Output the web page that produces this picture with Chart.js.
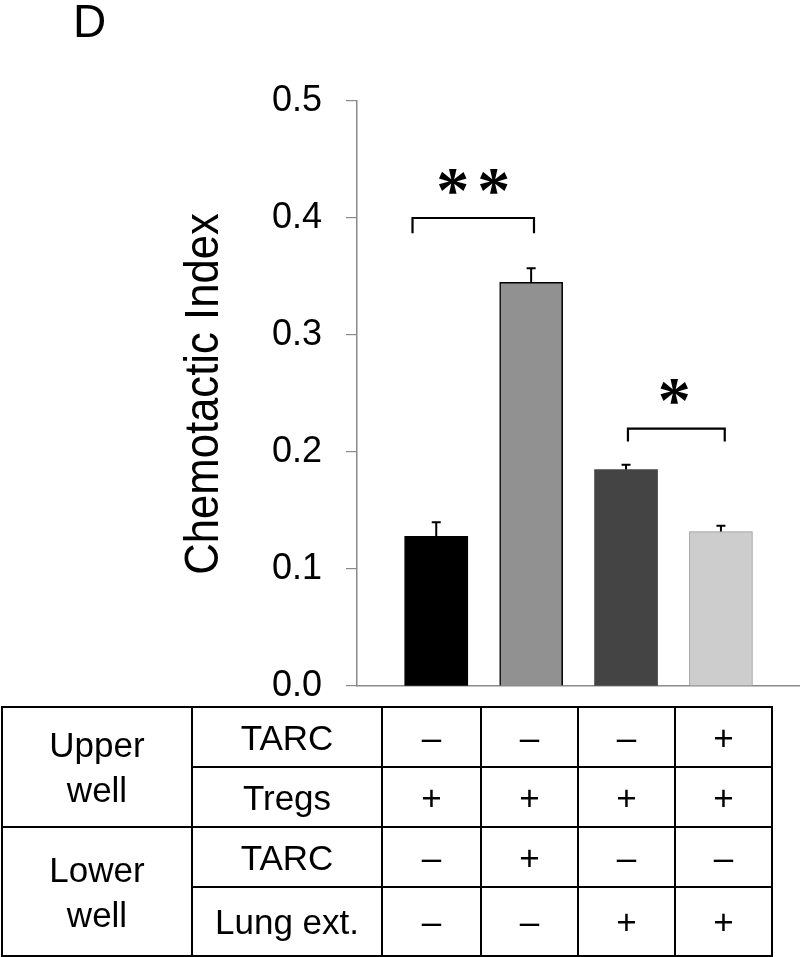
<!DOCTYPE html>
<html>
<head>
<meta charset="utf-8">
<script src="https://cdn.jsdelivr.net/npm/chart.js@4.4.1/dist/chart.umd.min.js"></script>
<style>
  html, body { margin: 0; padding: 0; background: #fff; }
  #wrap { width: 800px; height: 957px; position: relative; }
</style>
</head>
<body>
<div id="wrap"><canvas id="chart" width="800" height="957"></canvas></div>
<script>
// ----- data -----
const groups = ["1", "2", "3", "4"];
const chemotacticIndex = [0.128, 0.345, 0.185, 0.132];
const errors = [0.012, 0.012, 0.004, 0.005];
const barColors = ["#000000", "#919191", "#444444", "#cdcdcd"];
const yTicks = [0.0, 0.1, 0.2, 0.3, 0.4, 0.5];

// significance brackets (x in bar positions, y in index units)
const sigFrom = [0.75, 3.02];
const sigTo = [2.03, 4.04];
const sigY = [0.4, 0.22];
const sigLeg = [0.013, 0.011];
const sigLabel = ["**", "*"];

// condition table
const groupLabels = [["Upper", "well"], ["Lower", "well"]];
const rowLabels = ["TARC", "Tregs", "TARC", "Lung ext."];
const upperTARC = ["–", "–", "–", "+"];
const upperTregs = ["+", "+", "+", "+"];
const lowerTARC = ["–", "+", "–", "–"];
const lowerLung = ["–", "–", "+", "+"];
const tableRows = [upperTARC, upperTregs, lowerTARC, lowerLung];

const FONT = '"Liberation Sans", Arial, sans-serif';

const extras = {
  id: "extras",
  afterDatasetsDraw(chart) {
    const ctx = chart.ctx;
    const y = chart.scales.y;
    const x = chart.scales.x;
    const meta = chart.getDatasetMeta(0);

    // error bars (upper only)
    ctx.save();
    ctx.strokeStyle = "#000";
    ctx.lineWidth = 2;
    meta.data.forEach((bar, i) => {
      const top = y.getPixelForValue(chemotacticIndex[i] + errors[i]);
      ctx.beginPath();
      ctx.moveTo(bar.x, bar.y);
      ctx.lineTo(bar.x, top);
      ctx.moveTo(bar.x - 4.5, top);
      ctx.lineTo(bar.x + 4.5, top);
      ctx.stroke();
    });

    // brackets + stars
    sigFrom.forEach((f, i) => {
      const x1 = x.getPixelForValue(f);
      const x2 = x.getPixelForValue(sigTo[i]);
      const yl = y.getPixelForValue(sigY[i]);
      const yb = y.getPixelForValue(sigY[i] - sigLeg[i]);
      ctx.lineWidth = 2.2;
      ctx.beginPath();
      ctx.moveTo(x1, yb);
      ctx.lineTo(x1, yl);
      ctx.lineTo(x2, yl);
      ctx.lineTo(x2, yb);
      ctx.stroke();

      ctx.font = "bold 66px " + '"Liberation Serif", serif';
      ctx.fillStyle = "#000";
      ctx.textAlign = "center";
      ctx.textBaseline = "alphabetic";
      const multi = sigLabel[i].length > 1;
      ctx.letterSpacing = multi ? "8px" : "0px";
      const m = ctx.measureText(sigLabel[i]);
      const cy = yl - 37;
      const base = cy + (m.actualBoundingBoxAscent - m.actualBoundingBoxDescent) / 2;
      const shift = multi ? 4 : -2;
      ctx.fillText(sigLabel[i], (x1 + x2) / 2 + shift, base);
      ctx.letterSpacing = "0px";
    });
    ctx.restore();
  },
  afterDraw(chart) {
    const ctx = chart.ctx;
    ctx.save();
    ctx.fillStyle = "#000";

    // panel letter
    ctx.font = "46px " + FONT;
    ctx.textAlign = "left";
    ctx.textBaseline = "alphabetic";
    ctx.fillText("D", 73, 37);

    // y axis title
    ctx.save();
    ctx.translate(218, 394);
    ctx.rotate(-Math.PI / 2);
    ctx.scale(0.91, 1);
    ctx.font = "48px " + FONT;
    ctx.textAlign = "center";
    ctx.fillText("Chemotactic Index", 0, 0);
    ctx.restore();

    // table
    const colX = [2, 192, 382, 481, 578, 675, 772];
    const rowY = [707, 767, 827, 887, 956];
    ctx.strokeStyle = "#000";
    ctx.lineWidth = 2;
    ctx.beginPath();
    ctx.rect(colX[0], rowY[0], colX[6] - colX[0], rowY[4] - rowY[0]);
    // full-width divider between upper and lower well
    ctx.moveTo(colX[0], rowY[2]);
    ctx.lineTo(colX[6], rowY[2]);
    // sub-row dividers
    ctx.moveTo(colX[1], rowY[1]);
    ctx.lineTo(colX[6], rowY[1]);
    ctx.moveTo(colX[1], rowY[3]);
    ctx.lineTo(colX[6], rowY[3]);
    for (let c = 1; c < 6; c++) {
      ctx.moveTo(colX[c], rowY[0]);
      ctx.lineTo(colX[c], rowY[4]);
    }
    ctx.stroke();

    const fs = 35;
    ctx.font = fs + "px " + FONT;
    ctx.textAlign = "center";
    ctx.textBaseline = "alphabetic";
    const capOff = 0.358 * fs;

    groupLabels.forEach((lines, g) => {
      const cx = (colX[0] + colX[1]) / 2;
      const cy = (rowY[g * 2] + rowY[g * 2 + 2]) / 2;
      ctx.fillText(lines[0], cx, cy - 22.5 + capOff);
      ctx.fillText(lines[1], cx, cy + 22.5 + capOff);
    });

    rowLabels.forEach((lbl, r) => {
      const cy = (rowY[r] + rowY[r + 1]) / 2;
      ctx.fillText(lbl, (colX[1] + colX[2]) / 2, cy + capOff);
      tableRows[r].forEach((v, c) => {
        ctx.fillText(v, (colX[c + 2] + colX[c + 3]) / 2, cy + capOff);
      });
    });
    ctx.restore();
  }
};

new Chart(document.getElementById("chart").getContext("2d"), {
  type: "bar",
  data: {
    datasets: [{
      data: chemotacticIndex.map((v, i) => ({ x: i + 1, y: v })),
      backgroundColor: barColors,
      borderColor: ["#000000", "#000000", "#444444", "#999999"],
      borderWidth: [0, 1.5, 0, 1],
      barThickness: 63
    }]
  },
  options: {
    responsive: false,
    animation: false,
    devicePixelRatio: 1,
    layout: { padding: { top: 101, bottom: 271, left: 0, right: 0 } },
    plugins: { legend: { display: false }, tooltip: { enabled: false } },
    scales: {
      x: {
        type: "linear",
        offset: false,
        min: 0.165,
        max: 4.833,
        grid: { display: false, offset: false },
        ticks: { display: false },
        border: { display: true, color: "#8a8a8a", width: 1.5 },
        afterFit: s => { s.height = 0; }
      },
      y: {
        min: 0,
        max: 0.5,
        afterBuildTicks: s => { s.ticks = yTicks.map(v => ({ value: v })); },
        grid: { drawOnChartArea: false, drawTicks: true, tickLength: 11, color: "#8a8a8a", lineWidth: 1.2 },
        border: { display: true, color: "#8a8a8a", width: 1.5 },
        ticks: {
          padding: 24,
          color: "#000",
          font: { family: "Liberation Sans", size: 36 },
          callback: v => v.toFixed(1)
        },
        afterFit: s => { s.width = 357; }
      }
    }
  },
  plugins: [extras]
});
</script>
</body>
</html>
